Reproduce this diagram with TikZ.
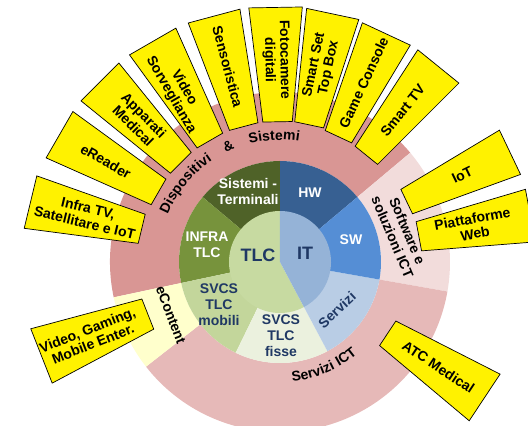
\documentclass[tikz,border=0pt]{standalone}
\usepackage{fontspec}
\setmainfont{Liberation Sans}
\usepackage{tikz}
\usetikzlibrary{decorations.text}

\definecolor{dispcol}{HTML}{D99694}
\definecolor{softcol}{HTML}{F2DCDB}
\definecolor{svictcol}{HTML}{E6B9B8}
\definecolor{econtcol}{HTML}{FFFFCC}
\definecolor{sistcol}{HTML}{4F6228}
\definecolor{infracol}{HTML}{77933C}
\definecolor{mobcol}{RGB}{195,214,155}
\definecolor{fissecol}{HTML}{EBF1DE}
\definecolor{servcol}{HTML}{B9CDE5}
\definecolor{swcol}{HTML}{558ED5}
\definecolor{hwcol}{HTML}{376092}
\definecolor{tlccol}{RGB}{199,218,161}
\definecolor{itcol}{HTML}{95B3D7}
\definecolor{labelblue}{RGB}{31,56,100}

\newcommand{\ringfont}{\bfseries\fontsize{14}{16}\selectfont}
\tikzstyle{tagbox} = [draw=black, fill=yellow, line width=0.7pt]
\tikzstyle{tagtext} = [font=\bfseries\fontsize{14}{15}\selectfont, align=center, inner sep=0pt]
\tikzstyle{ringlabel} = [font=\ringfont, align=center, inner sep=0pt]
\tikzstyle{corelabel} = [font=\bfseries\fontsize{18}{20}\selectfont, text=labelblue]
\newcommand{\ringpart}[5]{\fill[#1] (#2:#4) arc[start angle=#2, end angle=#3, radius=#4] -- (#3:#5) arc[start angle=#3, end angle=#2, radius=#5] -- cycle;}
\newcommand{\tagshape}[4]{\draw[tagbox] (#1:#3) -- (#1:#4) -- (#2:#4) -- (#2:#3) -- cycle;}

\begin{document}
\begin{tikzpicture}[x=1pt, y=1pt]
  \clip (-280,-164) rectangle (248,262);

  \ringpart{dispcol}{40}{192}{101}{170}
  \ringpart{softcol}{-10}{40}{101}{170}
  \ringpart{svictcol}{218}{350}{101}{170}
  \ringpart{econtcol}{192}{218}{101}{170}

  \ringpart{hwcol}{40}{90}{50}{101}
  \ringpart{sistcol}{90}{140}{50}{101}
  \ringpart{infracol}{140}{192}{50}{101}
  \ringpart{mobcol}{192}{244}{50}{101}
  \ringpart{fissecol}{244}{298}{50}{101}
  \ringpart{servcol}{298}{350}{50}{101}
  \ringpart{swcol}{-10}{40}{50}{101}

  \fill[tlccol] (0,0) -- (90:51) arc[start angle=90, end angle=298, radius=51] -- cycle;
  \fill[itcol] (0,0) -- (-62:51) arc[start angle=-62, end angle=90, radius=51] -- cycle;

  \node[corelabel] (tlc) at (-22,7) {TLC};
  \node[corelabel] (it) at (25,9) {IT};

  \node[ringlabel, text=white] (sistemi) at (-32,71) {Sistemi -\\Terminali};
  \node[ringlabel, text=white] (hw) at (30,69) {HW};
  \node[ringlabel, text=white] (sw) at (71,22) {SW};
  \node[ringlabel, text=white] (infra) at (-73,17) {INFRA\\TLC};
  \node[ringlabel, text=labelblue] (mobili) at (-61,-43) {SVCS\\TLC\\mobili};
  \node[ringlabel, text=labelblue] (fisse) at (1,-74) {SVCS\\TLC\\fisse};
  \node[ringlabel, text=labelblue, rotate=43] (servizi) at (57,-48) {Servizi};

  \path[decorate, decoration={text along path, text={|\ringfont|Dispositivi {\&} Sistemi},
    text align={fit to path stretching spaces}}] (157:122) arc[start angle=157, end angle=81, radius=122];
  \path[decorate, decoration={text along path, text={|\ringfont|Servizi ICT}, text align=center}]
    (-86:120) arc[start angle=-86, end angle=-48, radius=120];
  \node[ringlabel, rotate=-67] (software) at (120,28) {Software e\\soluzioni ICT};
  \node[ringlabel, rotate=-69] (econtent) at (-109,-53) {eContent};

  \tagshape{160.5}{172.5}{143}{258}
  \tagshape{144}{156}{141}{256}
  \tagshape{129}{141}{141}{256}
  \tagshape{114}{126}{141}{256}
  \tagshape{99}{111}{141}{256}
  \tagshape{85}{97}{141}{256}
  \tagshape{72}{84}{141}{255}
  \tagshape{59}{71}{139}{253}
  \tagshape{45}{57}{138}{253}
  \tagshape{20}{31}{141}{256}
  \tagshape{4.5}{16.5}{142}{256}
  \tagshape{-40}{-27}{130}{247}
  \tagshape{195}{208}{143}{258}

  \node[tagtext, rotate=-13.5] (infratv) at (166.5:199) {Infra TV,\\Satellitare e IoT};
  \node[tagtext, rotate=-30] (ereader) at (150:201) {eReader};
  \node[tagtext, rotate=-45] (apparati) at (135:200) {Apparati\\Medical};
  \node[tagtext, rotate=-60] (video) at (121:199) {Video\\Sorveglianza};
  \node[tagtext, rotate=-75] (sensori) at (105:202) {Sensoristica};
  \node[tagtext, rotate=-89] (fotocamere) at (91:202) {Fotocamere\\digitali};
  \node[tagtext, rotate=78] (settopbox) at (78:200) {Smart Set\\Top Box};
  \node[tagtext, rotate=65] (console) at (65:198) {Game Console};
  \node[tagtext, rotate=51] (smarttv) at (51:195) {Smart TV};
  \node[tagtext, rotate=26] (iot) at (25.5:202) {IoT};
  \node[tagtext, rotate=10.5] (piattaforme) at (10.5:197) {Piattaforme\\Web};
  \node[tagtext, rotate=-33.5] (atc) at (-33.5:190) {ATC Medical};
  \node[tagtext, rotate=21.5] (gaming) at (201.5:204) {Video, Gaming,\\Mobile Enter.};
\end{tikzpicture}
\end{document}
